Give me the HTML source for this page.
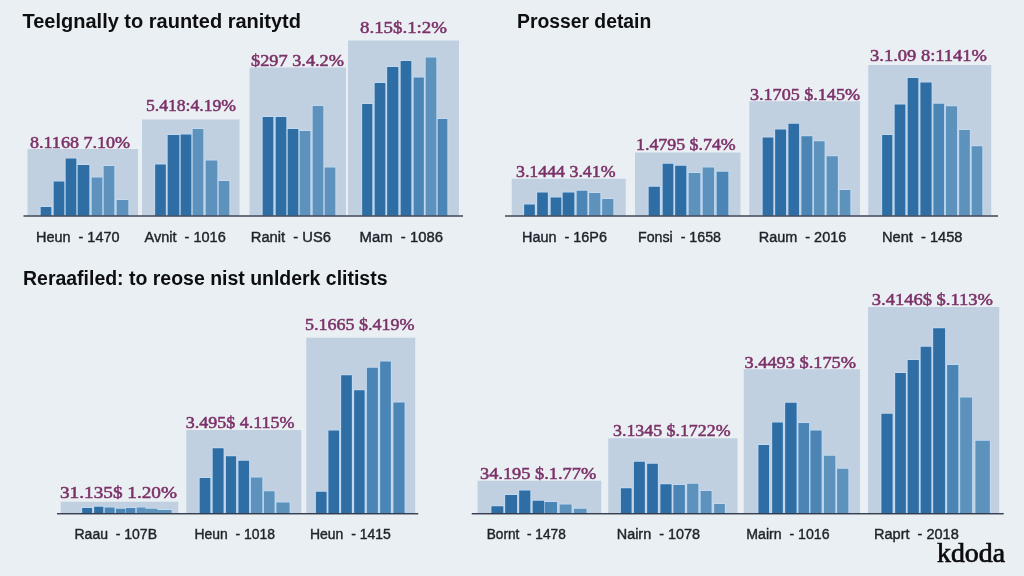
<!DOCTYPE html>
<html lang="en"><head><meta charset="utf-8"><title>Charts</title>
<style>
html,body{margin:0;padding:0;background:#e9eff2;}
body{width:1024px;height:576px;overflow:hidden;font-family:"Liberation Sans",sans-serif;}
svg{display:block;filter:blur(0.45px);}
.pl{font-family:"Liberation Serif",serif;font-size:16px;fill:#7c3169;stroke:#7c3169;stroke-width:0.5px;}
.xl{font-family:"Liberation Sans",sans-serif;font-size:14px;fill:#1c232b;stroke:#1c232b;stroke-width:0.4px;}
.tt{font-family:"Liberation Sans",sans-serif;font-weight:bold;fill:#0e0e10;stroke:#0e0e10;stroke-width:0px;}
.wm{font-family:"Liberation Serif",serif;font-size:27px;fill:#0b0b0d;stroke:#0b0b0d;stroke-width:0.7px;}
</style></head><body>
<svg width="1024" height="576" viewBox="0 0 1024 576">
<rect x="0" y="0" width="1024" height="576" fill="#e9eff2"/>
<text class="tt" x="22.5" y="28.25" font-size="19.5" textLength="278.5" lengthAdjust="spacingAndGlyphs">Teelgnally to raunted ranitytd</text>
<text class="tt" x="517" y="28.25" font-size="19.5" textLength="134.25" lengthAdjust="spacingAndGlyphs">Prosser detain</text>
<text class="tt" x="23" y="284.5" font-size="19.5" textLength="364.5" lengthAdjust="spacingAndGlyphs">Reraafiled: to reose nist unlderk clitists</text>
<rect x="27.5" y="149" width="110.5" height="66.5" fill="#c0d0e0"/>
<rect x="39.75" y="206.1" width="12.5" height="9.4" fill="#c3daf2"/>
<rect x="52.75" y="180.6" width="12.5" height="34.9" fill="#c3daf2"/>
<rect x="64.75" y="157.6" width="12.5" height="57.9" fill="#c3daf2"/>
<rect x="76.75" y="164.1" width="13.5" height="51.4" fill="#c3daf2"/>
<rect x="90.75" y="176.6" width="12.5" height="38.9" fill="#c3daf2"/>
<rect x="102.75" y="165.1" width="12.5" height="50.4" fill="#c3daf2"/>
<rect x="115.75" y="199.1" width="13.5" height="16.4" fill="#c3daf2"/>
<rect x="40.65" y="207" width="10.7" height="8.5" fill="#2e6ea5"/>
<rect x="53.65" y="181.5" width="10.7" height="34" fill="#2e6ea5"/>
<rect x="65.65" y="158.5" width="10.7" height="57" fill="#2e6ea5"/>
<rect x="77.65" y="165" width="11.7" height="50.5" fill="#2e6ea5"/>
<rect x="91.65" y="177.5" width="10.7" height="38" fill="#5d92bc"/>
<rect x="103.65" y="166" width="10.7" height="49.5" fill="#5d92bc"/>
<rect x="116.65" y="200" width="11.7" height="15.5" fill="#5d92bc"/>
<rect x="142" y="119.5" width="97.5" height="96" fill="#c0d0e0"/>
<rect x="154.25" y="163.6" width="12.5" height="51.9" fill="#c3daf2"/>
<rect x="166.75" y="134.1" width="13.5" height="81.4" fill="#c3daf2"/>
<rect x="179.75" y="133.6" width="12.5" height="81.9" fill="#c3daf2"/>
<rect x="191.75" y="128.1" width="12.5" height="87.4" fill="#c3daf2"/>
<rect x="204.75" y="159.6" width="13.5" height="55.9" fill="#c3daf2"/>
<rect x="217.75" y="180.1" width="12.5" height="35.4" fill="#c3daf2"/>
<rect x="155.15" y="164.5" width="10.7" height="51" fill="#2e6ea5"/>
<rect x="167.65" y="135" width="11.7" height="80.5" fill="#2e6ea5"/>
<rect x="180.65" y="134.5" width="10.7" height="81" fill="#2e6ea5"/>
<rect x="192.65" y="129" width="10.7" height="86.5" fill="#5d92bc"/>
<rect x="205.65" y="160.5" width="11.7" height="55" fill="#5d92bc"/>
<rect x="218.65" y="181" width="10.7" height="34.5" fill="#5d92bc"/>
<rect x="249.5" y="67.5" width="96.5" height="148" fill="#c0d0e0"/>
<rect x="261.75" y="116.1" width="12.5" height="99.4" fill="#c3daf2"/>
<rect x="274.75" y="116.1" width="12.5" height="99.4" fill="#c3daf2"/>
<rect x="286.75" y="128.1" width="12.5" height="87.4" fill="#c3daf2"/>
<rect x="298.75" y="130.1" width="12.5" height="85.4" fill="#c3daf2"/>
<rect x="311.75" y="105.1" width="12.5" height="110.4" fill="#c3daf2"/>
<rect x="323.75" y="166.6" width="12.5" height="48.9" fill="#c3daf2"/>
<rect x="262.65" y="117" width="10.7" height="98.5" fill="#2e6ea5"/>
<rect x="275.65" y="117" width="10.7" height="98.5" fill="#2e6ea5"/>
<rect x="287.65" y="129" width="10.7" height="86.5" fill="#2e6ea5"/>
<rect x="299.65" y="131" width="10.7" height="84.5" fill="#5d92bc"/>
<rect x="312.65" y="106" width="10.7" height="109.5" fill="#5d92bc"/>
<rect x="324.65" y="167.5" width="10.7" height="48" fill="#5d92bc"/>
<rect x="348" y="40.5" width="111" height="175" fill="#c0d0e0"/>
<rect x="361.25" y="103.1" width="12" height="112.4" fill="#c3daf2"/>
<rect x="373.75" y="82.1" width="12.5" height="133.4" fill="#c3daf2"/>
<rect x="386.25" y="66.1" width="13" height="149.4" fill="#c3daf2"/>
<rect x="399.75" y="60.1" width="12.5" height="155.4" fill="#c3daf2"/>
<rect x="412.75" y="76.6" width="12" height="138.9" fill="#c3daf2"/>
<rect x="424.75" y="56.6" width="12.5" height="158.9" fill="#c3daf2"/>
<rect x="436.75" y="118.1" width="11.5" height="97.4" fill="#c3daf2"/>
<rect x="362.15" y="104" width="10.2" height="111.5" fill="#2e6ea5"/>
<rect x="374.65" y="83" width="10.7" height="132.5" fill="#2e6ea5"/>
<rect x="387.15" y="67" width="11.2" height="148.5" fill="#2e6ea5"/>
<rect x="400.65" y="61" width="10.7" height="154.5" fill="#2e6ea5"/>
<rect x="413.65" y="77.5" width="10.2" height="138" fill="#4b85b5"/>
<rect x="425.65" y="57.5" width="10.7" height="158" fill="#5d92bc"/>
<rect x="437.65" y="119" width="9.7" height="96.5" fill="#4b85b5"/>
<rect x="23.5" y="215.35" width="439.5" height="1.3" fill="#252d40"/>
<text class="pl" x="30" y="147.5" textLength="100" lengthAdjust="spacingAndGlyphs">8.1168 7.10%</text>
<text class="pl" x="146" y="111" textLength="90" lengthAdjust="spacingAndGlyphs">5.418:4.19%</text>
<text class="pl" x="251" y="66" textLength="93" lengthAdjust="spacingAndGlyphs">$297 3.4.2%</text>
<text class="pl" x="360" y="33" textLength="87" lengthAdjust="spacingAndGlyphs">8.15$.1:2%</text>
<text class="xl" x="36" y="241.5" textLength="83.5" lengthAdjust="spacingAndGlyphs" xml:space="preserve">Heun  - 1470</text>
<text class="xl" x="144.5" y="241.5" textLength="81.25" lengthAdjust="spacingAndGlyphs" xml:space="preserve">Avnit  - 1016</text>
<text class="xl" x="250.75" y="241.5" textLength="80.25" lengthAdjust="spacingAndGlyphs" xml:space="preserve">Ranit  - US6</text>
<text class="xl" x="359.5" y="241.5" textLength="83.5" lengthAdjust="spacingAndGlyphs" xml:space="preserve">Mam  - 1086</text>
<rect x="511.75" y="178.75" width="114" height="36.75" fill="#c0d0e0"/>
<rect x="523.25" y="203.6" width="12.5" height="11.9" fill="#c3daf2"/>
<rect x="536.25" y="191.6" width="12.5" height="23.9" fill="#c3daf2"/>
<rect x="549.75" y="196.6" width="12.5" height="18.9" fill="#c3daf2"/>
<rect x="561.75" y="191.6" width="13.5" height="23.9" fill="#c3daf2"/>
<rect x="575.75" y="189.85" width="12.5" height="25.65" fill="#c3daf2"/>
<rect x="588.25" y="192.1" width="13" height="23.4" fill="#c3daf2"/>
<rect x="601.25" y="198.1" width="13" height="17.4" fill="#c3daf2"/>
<rect x="524.15" y="204.5" width="10.7" height="11" fill="#2e6ea5"/>
<rect x="537.15" y="192.5" width="10.7" height="23" fill="#2e6ea5"/>
<rect x="550.65" y="197.5" width="10.7" height="18" fill="#2e6ea5"/>
<rect x="562.65" y="192.5" width="11.7" height="23" fill="#2e6ea5"/>
<rect x="576.65" y="190.75" width="10.7" height="24.75" fill="#4b85b5"/>
<rect x="589.15" y="193" width="11.2" height="22.5" fill="#5d92bc"/>
<rect x="602.15" y="199" width="11.2" height="16.5" fill="#5d92bc"/>
<rect x="635" y="152.5" width="105.5" height="63" fill="#c0d0e0"/>
<rect x="647.75" y="185.85" width="13" height="29.65" fill="#c3daf2"/>
<rect x="661.75" y="162.85" width="12.5" height="52.65" fill="#c3daf2"/>
<rect x="674.25" y="164.85" width="13" height="50.65" fill="#c3daf2"/>
<rect x="687.75" y="172.1" width="13.5" height="43.4" fill="#c3daf2"/>
<rect x="701.75" y="166.6" width="13.25" height="48.9" fill="#c3daf2"/>
<rect x="715.75" y="170.85" width="13.5" height="44.65" fill="#c3daf2"/>
<rect x="648.65" y="186.75" width="11.2" height="28.75" fill="#2e6ea5"/>
<rect x="662.65" y="163.75" width="10.7" height="51.75" fill="#2e6ea5"/>
<rect x="675.15" y="165.75" width="11.2" height="49.75" fill="#2e6ea5"/>
<rect x="688.65" y="173" width="11.7" height="42.5" fill="#5d92bc"/>
<rect x="702.65" y="167.5" width="11.45" height="48" fill="#5d92bc"/>
<rect x="716.65" y="171.75" width="11.7" height="43.75" fill="#4b85b5"/>
<rect x="749.25" y="101.25" width="110.75" height="114.25" fill="#c0d0e0"/>
<rect x="761.75" y="136.6" width="12.5" height="78.9" fill="#c3daf2"/>
<rect x="774.25" y="128.6" width="12.75" height="86.9" fill="#c3daf2"/>
<rect x="787.5" y="122.85" width="12.5" height="92.65" fill="#c3daf2"/>
<rect x="800.5" y="135.35" width="12.75" height="80.15" fill="#c3daf2"/>
<rect x="813" y="140.35" width="12.5" height="75.15" fill="#c3daf2"/>
<rect x="825.75" y="155.35" width="13" height="60.15" fill="#c3daf2"/>
<rect x="838.75" y="189.1" width="12.5" height="26.4" fill="#c3daf2"/>
<rect x="762.65" y="137.5" width="10.7" height="78" fill="#2e6ea5"/>
<rect x="775.15" y="129.5" width="10.95" height="86" fill="#2e6ea5"/>
<rect x="788.4" y="123.75" width="10.7" height="91.75" fill="#2e6ea5"/>
<rect x="801.4" y="136.25" width="10.95" height="79.25" fill="#4b85b5"/>
<rect x="813.9" y="141.25" width="10.7" height="74.25" fill="#5d92bc"/>
<rect x="826.65" y="156.25" width="11.2" height="59.25" fill="#5d92bc"/>
<rect x="839.65" y="190" width="10.7" height="25.5" fill="#5d92bc"/>
<rect x="868.25" y="65" width="123" height="150.5" fill="#c0d0e0"/>
<rect x="881.25" y="134.1" width="12" height="81.4" fill="#c3daf2"/>
<rect x="893.75" y="103.6" width="12.5" height="111.9" fill="#c3daf2"/>
<rect x="906.75" y="77.1" width="12.5" height="138.4" fill="#c3daf2"/>
<rect x="919.5" y="81.6" width="13" height="133.9" fill="#c3daf2"/>
<rect x="932.5" y="102.85" width="12.5" height="112.65" fill="#c3daf2"/>
<rect x="945" y="105.35" width="13" height="110.15" fill="#c3daf2"/>
<rect x="958.25" y="129.1" width="12.5" height="86.4" fill="#c3daf2"/>
<rect x="970.75" y="145.35" width="12.5" height="70.15" fill="#c3daf2"/>
<rect x="882.15" y="135" width="10.2" height="80.5" fill="#2e6ea5"/>
<rect x="894.65" y="104.5" width="10.7" height="111" fill="#2e6ea5"/>
<rect x="907.65" y="78" width="10.7" height="137.5" fill="#2e6ea5"/>
<rect x="920.4" y="82.5" width="11.2" height="133" fill="#2e6ea5"/>
<rect x="933.4" y="103.75" width="10.7" height="111.75" fill="#4b85b5"/>
<rect x="945.9" y="106.25" width="11.2" height="109.25" fill="#5d92bc"/>
<rect x="959.15" y="130" width="10.7" height="85.5" fill="#5d92bc"/>
<rect x="971.65" y="146.25" width="10.7" height="69.25" fill="#5d92bc"/>
<rect x="505" y="215.35" width="493" height="1.3" fill="#252d40"/>
<text class="pl" x="516" y="177" textLength="99.5" lengthAdjust="spacingAndGlyphs">3.1444 3.41%</text>
<text class="pl" x="636" y="150" textLength="99.75" lengthAdjust="spacingAndGlyphs">1.4795 $.74%</text>
<text class="pl" x="750" y="99.5" textLength="110" lengthAdjust="spacingAndGlyphs">3.1705 $.145%</text>
<text class="pl" x="870" y="60.75" textLength="117" lengthAdjust="spacingAndGlyphs">3.1.09 8:1141%</text>
<text class="xl" x="522" y="241.5" textLength="85" lengthAdjust="spacingAndGlyphs" xml:space="preserve">Haun  - 16P6</text>
<text class="xl" x="638" y="241.5" textLength="83" lengthAdjust="spacingAndGlyphs" xml:space="preserve">Fonsi  - 1658</text>
<text class="xl" x="758.75" y="241.5" textLength="87.5" lengthAdjust="spacingAndGlyphs" xml:space="preserve">Raum  - 2016</text>
<text class="xl" x="882" y="241.5" textLength="80.5" lengthAdjust="spacingAndGlyphs" xml:space="preserve">Nent  - 1458</text>
<rect x="60.75" y="501.75" width="117.5" height="11.5" fill="#c0d0e0"/>
<rect x="81.25" y="507.1" width="11.75" height="6.15" fill="#c3daf2"/>
<rect x="93.25" y="505.85" width="11" height="7.4" fill="#c3daf2"/>
<rect x="103.75" y="506.6" width="11.75" height="6.65" fill="#c3daf2"/>
<rect x="115" y="507.85" width="11.25" height="5.4" fill="#c3daf2"/>
<rect x="125" y="507.1" width="11.25" height="6.15" fill="#c3daf2"/>
<rect x="135.75" y="506.6" width="10.5" height="6.65" fill="#c3daf2"/>
<rect x="144.25" y="507.85" width="14" height="5.4" fill="#c3daf2"/>
<rect x="156.25" y="509.1" width="16.25" height="4.15" fill="#c3daf2"/>
<rect x="82.15" y="508" width="9.95" height="5.25" fill="#2e6ea5"/>
<rect x="94.15" y="506.75" width="9.2" height="6.5" fill="#2e6ea5"/>
<rect x="104.65" y="507.5" width="9.95" height="5.75" fill="#4b85b5"/>
<rect x="115.9" y="508.75" width="9.45" height="4.5" fill="#4b85b5"/>
<rect x="125.9" y="508" width="9.45" height="5.25" fill="#4b85b5"/>
<rect x="136.65" y="507.5" width="8.7" height="5.75" fill="#5d92bc"/>
<rect x="145.15" y="508.75" width="12.2" height="4.5" fill="#5d92bc"/>
<rect x="157.15" y="510" width="14.45" height="3.25" fill="#5d92bc"/>
<rect x="186.25" y="430" width="115" height="83.25" fill="#c0d0e0"/>
<rect x="198.75" y="477.1" width="12.5" height="36.15" fill="#c3daf2"/>
<rect x="211.75" y="447.35" width="12.75" height="65.9" fill="#c3daf2"/>
<rect x="225" y="455.35" width="12" height="57.9" fill="#c3daf2"/>
<rect x="237.5" y="459.85" width="12.5" height="53.4" fill="#c3daf2"/>
<rect x="250" y="476.6" width="13.25" height="36.65" fill="#c3daf2"/>
<rect x="263" y="490.35" width="12.5" height="22.9" fill="#c3daf2"/>
<rect x="275.5" y="501.6" width="15" height="11.65" fill="#c3daf2"/>
<rect x="199.65" y="478" width="10.7" height="35.25" fill="#2e6ea5"/>
<rect x="212.65" y="448.25" width="10.95" height="65" fill="#2e6ea5"/>
<rect x="225.9" y="456.25" width="10.2" height="57" fill="#2e6ea5"/>
<rect x="238.4" y="460.75" width="10.7" height="52.5" fill="#2e6ea5"/>
<rect x="250.9" y="477.5" width="11.45" height="35.75" fill="#5d92bc"/>
<rect x="263.9" y="491.25" width="10.7" height="22" fill="#5d92bc"/>
<rect x="276.4" y="502.5" width="13.2" height="10.75" fill="#5d92bc"/>
<rect x="306.25" y="337.75" width="109" height="175.5" fill="#c0d0e0"/>
<rect x="315" y="490.85" width="12.5" height="22.4" fill="#c3daf2"/>
<rect x="327.5" y="429.6" width="12.5" height="83.65" fill="#c3daf2"/>
<rect x="340.25" y="374.35" width="12.5" height="138.9" fill="#c3daf2"/>
<rect x="353.25" y="389.35" width="12.25" height="123.9" fill="#c3daf2"/>
<rect x="366" y="366.85" width="12.75" height="146.4" fill="#c3daf2"/>
<rect x="379.25" y="360.6" width="12.5" height="152.65" fill="#c3daf2"/>
<rect x="392.5" y="401.6" width="13" height="111.65" fill="#c3daf2"/>
<rect x="315.9" y="491.75" width="10.7" height="21.5" fill="#2e6ea5"/>
<rect x="328.4" y="430.5" width="10.7" height="82.75" fill="#2e6ea5"/>
<rect x="341.15" y="375.25" width="10.7" height="138" fill="#2e6ea5"/>
<rect x="354.15" y="390.25" width="10.45" height="123" fill="#2e6ea5"/>
<rect x="366.9" y="367.75" width="10.95" height="145.5" fill="#4b85b5"/>
<rect x="380.15" y="361.5" width="10.7" height="151.75" fill="#4b85b5"/>
<rect x="393.4" y="402.5" width="11.2" height="110.75" fill="#4b85b5"/>
<rect x="57" y="513.1" width="361.25" height="1.3" fill="#252d40"/>
<text class="pl" x="60" y="498.25" textLength="117" lengthAdjust="spacingAndGlyphs">31.135$ 1.20%</text>
<text class="pl" x="185.75" y="428.25" textLength="108.75" lengthAdjust="spacingAndGlyphs">3.495$ 4.115%</text>
<text class="pl" x="305" y="329.75" textLength="109.5" lengthAdjust="spacingAndGlyphs">5.1665 $.419%</text>
<text class="xl" x="74.5" y="538.75" textLength="82.5" lengthAdjust="spacingAndGlyphs" xml:space="preserve">Raau  - 107B</text>
<text class="xl" x="194.5" y="538.75" textLength="80.5" lengthAdjust="spacingAndGlyphs" xml:space="preserve">Heun  - 1018</text>
<text class="xl" x="310" y="538.75" textLength="80.75" lengthAdjust="spacingAndGlyphs" xml:space="preserve">Heun  - 1415</text>
<rect x="477.5" y="480.75" width="123.75" height="32.5" fill="#c0d0e0"/>
<rect x="490.5" y="505.35" width="13.75" height="7.9" fill="#c3daf2"/>
<rect x="504.25" y="494.1" width="13.75" height="19.15" fill="#c3daf2"/>
<rect x="518.25" y="489.6" width="13" height="23.65" fill="#c3daf2"/>
<rect x="531.75" y="499.85" width="13.25" height="13.4" fill="#c3daf2"/>
<rect x="543.75" y="501.1" width="14.25" height="12.15" fill="#c3daf2"/>
<rect x="558.75" y="503.6" width="13.75" height="9.65" fill="#c3daf2"/>
<rect x="573" y="507.85" width="14.5" height="5.4" fill="#c3daf2"/>
<rect x="491.4" y="506.25" width="11.95" height="7" fill="#2e6ea5"/>
<rect x="505.15" y="495" width="11.95" height="18.25" fill="#2e6ea5"/>
<rect x="519.15" y="490.5" width="11.2" height="22.75" fill="#2e6ea5"/>
<rect x="532.65" y="500.75" width="11.45" height="12.5" fill="#2e6ea5"/>
<rect x="544.65" y="502" width="12.45" height="11.25" fill="#4b85b5"/>
<rect x="559.65" y="504.5" width="11.95" height="8.75" fill="#5d92bc"/>
<rect x="573.9" y="508.75" width="12.7" height="4.5" fill="#5d92bc"/>
<rect x="608.25" y="438.25" width="129.25" height="75" fill="#c0d0e0"/>
<rect x="620" y="487.35" width="12.5" height="25.9" fill="#c3daf2"/>
<rect x="633" y="460.85" width="12.75" height="52.4" fill="#c3daf2"/>
<rect x="646.25" y="462.85" width="12.5" height="50.4" fill="#c3daf2"/>
<rect x="659.5" y="483.35" width="13" height="29.9" fill="#c3daf2"/>
<rect x="672.5" y="484.1" width="13.25" height="29.15" fill="#c3daf2"/>
<rect x="686.25" y="482.85" width="13" height="30.4" fill="#c3daf2"/>
<rect x="699.75" y="490.1" width="12.75" height="23.15" fill="#c3daf2"/>
<rect x="713.25" y="503.1" width="12.5" height="10.15" fill="#c3daf2"/>
<rect x="620.9" y="488.25" width="10.7" height="25" fill="#2e6ea5"/>
<rect x="633.9" y="461.75" width="10.95" height="51.5" fill="#2e6ea5"/>
<rect x="647.15" y="463.75" width="10.7" height="49.5" fill="#2e6ea5"/>
<rect x="660.4" y="484.25" width="11.2" height="29" fill="#2e6ea5"/>
<rect x="673.4" y="485" width="11.45" height="28.25" fill="#4b85b5"/>
<rect x="687.15" y="483.75" width="11.2" height="29.5" fill="#5d92bc"/>
<rect x="700.65" y="491" width="10.95" height="22.25" fill="#5d92bc"/>
<rect x="714.15" y="504" width="10.7" height="9.25" fill="#5d92bc"/>
<rect x="743.75" y="369.25" width="116.25" height="144" fill="#c0d0e0"/>
<rect x="757.5" y="444.1" width="12.5" height="69.15" fill="#c3daf2"/>
<rect x="771.25" y="421.6" width="12.5" height="91.65" fill="#c3daf2"/>
<rect x="784.25" y="401.85" width="13.25" height="111.4" fill="#c3daf2"/>
<rect x="797.5" y="422.1" width="12.5" height="91.15" fill="#c3daf2"/>
<rect x="809.5" y="429.6" width="13" height="83.65" fill="#c3daf2"/>
<rect x="823" y="454.85" width="13.25" height="58.4" fill="#c3daf2"/>
<rect x="836.25" y="467.85" width="13" height="45.4" fill="#c3daf2"/>
<rect x="758.4" y="445" width="10.7" height="68.25" fill="#2e6ea5"/>
<rect x="772.15" y="422.5" width="10.7" height="90.75" fill="#2e6ea5"/>
<rect x="785.15" y="402.75" width="11.45" height="110.5" fill="#2e6ea5"/>
<rect x="798.4" y="423" width="10.7" height="90.25" fill="#4b85b5"/>
<rect x="810.4" y="430.5" width="11.2" height="82.75" fill="#4b85b5"/>
<rect x="823.9" y="455.75" width="11.45" height="57.5" fill="#5d92bc"/>
<rect x="837.15" y="468.75" width="11.2" height="44.5" fill="#5d92bc"/>
<rect x="868" y="307" width="131.25" height="206.25" fill="#c0d0e0"/>
<rect x="880.5" y="412.85" width="13" height="100.4" fill="#c3daf2"/>
<rect x="894.25" y="372.1" width="12.5" height="141.15" fill="#c3daf2"/>
<rect x="906.75" y="359.1" width="13" height="154.15" fill="#c3daf2"/>
<rect x="919.75" y="345.85" width="12.5" height="167.4" fill="#c3daf2"/>
<rect x="932.25" y="327.35" width="13.75" height="185.9" fill="#c3daf2"/>
<rect x="946.25" y="364.1" width="13" height="149.15" fill="#c3daf2"/>
<rect x="959.25" y="396.6" width="13.75" height="116.65" fill="#c3daf2"/>
<rect x="974.5" y="439.85" width="16.25" height="73.4" fill="#c3daf2"/>
<rect x="881.4" y="413.75" width="11.2" height="99.5" fill="#2e6ea5"/>
<rect x="895.15" y="373" width="10.7" height="140.25" fill="#2e6ea5"/>
<rect x="907.65" y="360" width="11.2" height="153.25" fill="#2e6ea5"/>
<rect x="920.65" y="346.75" width="10.7" height="166.5" fill="#2e6ea5"/>
<rect x="933.15" y="328.25" width="11.95" height="185" fill="#2e6ea5"/>
<rect x="947.15" y="365" width="11.2" height="148.25" fill="#4b85b5"/>
<rect x="960.15" y="397.5" width="11.95" height="115.75" fill="#5d92bc"/>
<rect x="975.4" y="440.75" width="14.45" height="72.5" fill="#5d92bc"/>
<rect x="471.75" y="513.1" width="532" height="1.3" fill="#252d40"/>
<text class="pl" x="480" y="478.75" textLength="116.25" lengthAdjust="spacingAndGlyphs">34.195 $.1.77%</text>
<text class="pl" x="613" y="435.75" textLength="117.5" lengthAdjust="spacingAndGlyphs">3.1345 $.1722%</text>
<text class="pl" x="744.5" y="367.5" textLength="111.5" lengthAdjust="spacingAndGlyphs">3.4493 $.175%</text>
<text class="pl" x="871.75" y="305" textLength="121.25" lengthAdjust="spacingAndGlyphs">3.4146$ $.113%</text>
<text class="xl" x="486.75" y="538.75" textLength="79" lengthAdjust="spacingAndGlyphs" xml:space="preserve">Bornt  - 1478</text>
<text class="xl" x="616.75" y="538.75" textLength="83.25" lengthAdjust="spacingAndGlyphs" xml:space="preserve">Nairn  - 1078</text>
<text class="xl" x="746.25" y="538.75" textLength="83.25" lengthAdjust="spacingAndGlyphs" xml:space="preserve">Mairn  - 1016</text>
<text class="xl" x="874" y="538.75" textLength="84.75" lengthAdjust="spacingAndGlyphs" xml:space="preserve">Raprt  - 2018</text>
<text class="wm" x="937" y="562" textLength="68" lengthAdjust="spacingAndGlyphs">kdoda</text>
</svg></body></html>
